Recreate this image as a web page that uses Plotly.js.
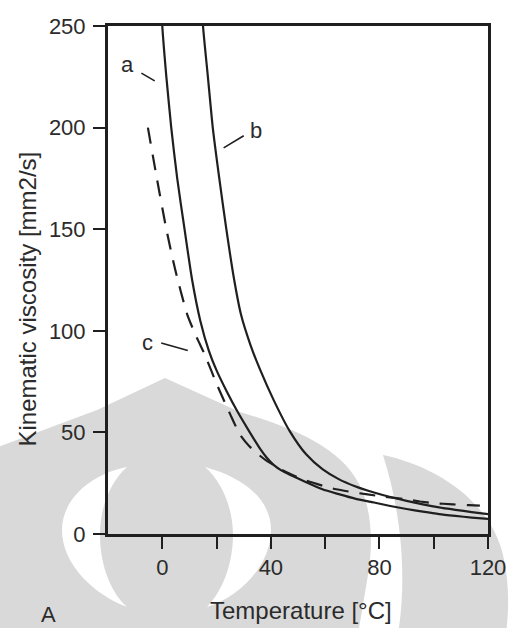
<!DOCTYPE html>
<html><head><meta charset="utf-8">
<script src="https://cdn.plot.ly/plotly-3.0.1.min.js"></script>
<style>html,body{margin:0;padding:0;background:#fff}#chart{width:510px;height:628px}</style>
</head><body><div id="chart"></div>
<script>
// ---- data ----
const tempA = [-0.3, 0, 1.5, 3.3, 5.5, 8.2, 11, 14, 17.2, 20, 23.8, 27.8, 31.8, 36, 38.5, 41, 44, 47, 53, 59, 65, 71, 78, 84, 90, 96, 102, 108, 114, 120];
const viscA = [260, 250, 225, 200, 175, 150, 125, 105, 90, 80.5, 70, 60, 51, 42, 37.5, 34, 31.2, 29.2, 25.5, 22, 19.6, 17.4, 15.5, 13.8, 12.3, 11, 9.8, 8.9, 8.1, 7.4];
const tempB = [14.7, 15, 16.8, 18.6, 21, 23.6, 26.5, 29, 32.5, 36, 41, 47, 53, 59, 65, 71, 78, 84, 90, 96, 102, 108, 114, 120];
const viscB = [260, 250, 225, 200, 175, 150, 125, 108, 93, 81, 66, 50.5, 39.2, 31.9, 27, 23.5, 20.4, 18.2, 16.3, 14.6, 13.1, 11.9, 10.8, 9.8];
const tempC = [-5.3, -2, 1.5, 4.6, 9.2, 12.6, 15.4, 20.4, 25, 28.6, 32, 36, 38.5, 41, 44, 47, 53, 59, 64, 70, 75, 82, 89, 95, 100, 107, 113, 117];
const viscC = [200, 175, 150, 131, 108, 97, 89, 72.7, 59, 49, 43.3, 38.5, 36, 34, 31.6, 29.6, 26.3, 23.8, 22, 20.6, 19.6, 18.3, 17.2, 16, 15.2, 14.6, 14.2, 14.0];
const xTickVals = [0, 20, 40, 60, 80, 100, 120];
const xTickText = ['0', '', '40', '', '80', '', '120'];
const yTickVals = [0, 50, 100, 150, 200, 250];
const curveLabels = ['a', 'b', 'c'];

// ---- layout helpers ----
const W = 510, H = 628;
const M = {l: 108, r: 22, t: 26, b: 94};
const PW = W - M.l - M.r, PH = H - M.t - M.b;
const px = X => (X - M.l) / PW;
const py = Y => (H - M.b - Y) / PH;
function path(cmds) {
  return cmds.map(c => {
    const L = c[0]; const out = [L];
    for (let i = 1; i < c.length; i += 2) out.push(px(c[i]).toFixed(4) + ',' + py(c[i+1]).toFixed(4));
    return out.join(' ');
  }).join(' ') + ' Z';
}
const gray = '#d9d9d9';
const ink = '#1f1f1f';
const font = 'Liberation Sans, Arial, Helvetica, sans-serif';

const wm = [
  {type: 'path', xref: 'paper', yref: 'paper', layer: 'below', fillcolor: gray, line: {width: 0},
   path: path([['M', -5, 448], ['L', 97, 410], ['L', 165, 378], ['L', 240, 412],
               ['C', 300, 430, 345, 450, 362, 490], ['C', 372, 515, 373, 545, 368, 575],
               ['L', 357, 640], ['L', -5, 640]])},
  {type: 'path', xref: 'paper', yref: 'paper', layer: 'below', fillcolor: '#ffffff', line: {width: 0},
   path: path([['M', 127, 467], ['C', 90, 474, 62, 500, 62, 530], ['C', 62, 565, 95, 595, 127, 607],
               ['C', 108, 590, 100, 560, 100, 535], ['C', 100, 508, 110, 482, 127, 467]])},
  {type: 'path', xref: 'paper', yref: 'paper', layer: 'below', fillcolor: '#ffffff', line: {width: 0},
   path: path([['M', 205, 467], ['C', 245, 478, 271, 500, 271, 530], ['C', 271, 565, 240, 597, 207, 607],
               ['C', 225, 588, 233, 560, 233, 535], ['C', 233, 508, 222, 482, 205, 467]])},
  {type: 'path', xref: 'paper', yref: 'paper', layer: 'below', fillcolor: gray, line: {width: 0},
   path: path([['M', 383, 455], ['C', 435, 466, 490, 500, 503, 555], ['C', 510, 585, 509, 615, 505, 640],
               ['L', 397, 640], ['C', 406, 590, 405, 525, 383, 455]])}
];

const leaders = [
  {x0: -7.7, y0: 226.8, x1: -2.8, y1: 223},
  {x0: 22.6, y0: 190, x1: 30, y1: 196},
  {x0: -0.4, y0: 94, x1: 9.4, y1: 90.3}
].map(s => Object.assign({type: 'line', xref: 'x', yref: 'y', line: {color: ink, width: 1.6}}, s));

const labelPos = [[-12.7, 231], [34.6, 198.5], [-5.6, 94]];

const traces = [
  {x: tempA, y: viscA, name: 'a', mode: 'lines', line: {color: ink, width: 2.2, shape: 'spline', smoothing: 0.6}},
  {x: tempB, y: viscB, name: 'b', mode: 'lines', line: {color: ink, width: 2.2, shape: 'spline', smoothing: 0.6}},
  {x: tempC, y: viscC, name: 'c', mode: 'lines', line: {color: ink, width: 2.2, dash: '16px,11px', shape: 'spline', smoothing: 0.6}}
];

const axisCommon = {showline: true, linewidth: 3, linecolor: ink, mirror: true, showgrid: false, zeroline: false,
  ticks: 'outside', ticklen: 12, tickwidth: 2, tickcolor: ink,
  tickfont: {family: font, size: 22, color: '#2b2b2b'}, fixedrange: true};

const layout = {
  width: W, height: H, margin: M,
  paper_bgcolor: '#ffffff', plot_bgcolor: 'rgba(0,0,0,0)',
  showlegend: false,
  font: {family: font, color: '#2b2b2b'},
  xaxis: Object.assign({}, axisCommon, {range: [-20, 120], tickvals: xTickVals, ticktext: xTickText}),
  yaxis: Object.assign({}, axisCommon, {range: [0, 250], tickvals: yTickVals, ticktext: yTickVals.map(String), ticklabelstandoff: 3}),
  shapes: wm.concat(leaders),
  annotations: curveLabels.map((t, i) => ({text: t, x: labelPos[i][0], y: labelPos[i][1], xref: 'x', yref: 'y',
      showarrow: false, xanchor: 'center', yanchor: 'middle', font: {family: font, size: 22, color: '#2b2b2b'}}))
    .concat([
      {text: 'Kinematic viscosity [mm2/s]', textangle: -90, xref: 'paper', yref: 'paper', x: px(27.5), y: py(299),
       xanchor: 'center', yanchor: 'middle', showarrow: false, font: {family: font, size: 24, color: '#2b2b2b'}},
      {text: 'Temperature [°C]', xref: 'paper', yref: 'paper', x: px(301), y: py(610),
       xanchor: 'center', yanchor: 'middle', showarrow: false, font: {family: font, size: 24, color: '#2b2b2b'}},
      {text: 'A', xref: 'paper', yref: 'paper', x: px(48), y: py(614),
       xanchor: 'center', yanchor: 'middle', showarrow: false, font: {family: font, size: 22, color: '#2b2b2b'}}
    ])
};

Plotly.newPlot('chart', traces, layout, {displayModeBar: false, staticPlot: true});
</script></body></html>
